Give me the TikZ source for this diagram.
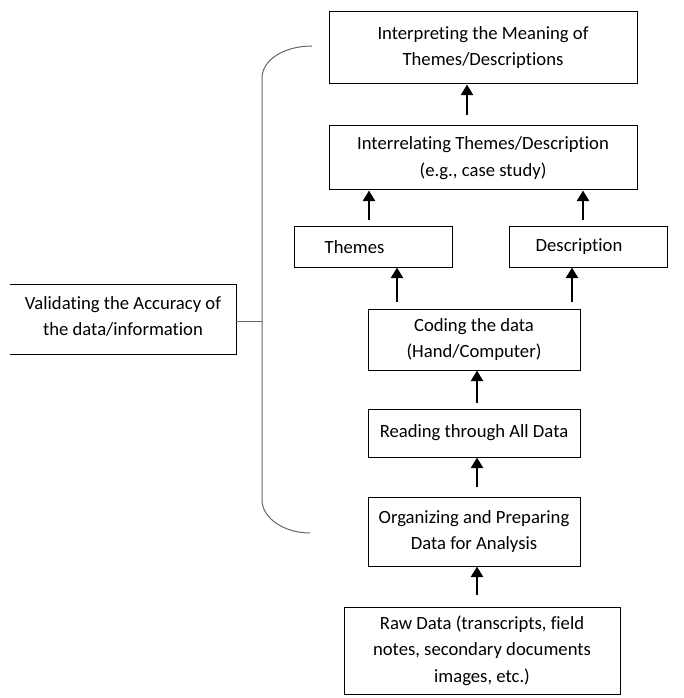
\documentclass[tikz,border=0pt]{standalone}
\usepackage{fontspec}
\setmainfont{Carlito}[Ligatures=NoCommon]
\usepackage{tikz}
\usetikzlibrary{arrows.meta}

\begin{document}
\begin{tikzpicture}[x=0.75pt, y=-0.75pt,
  box/.style={draw, line width=0.75pt, align=center, inner sep=0pt},
  lines/.style={font=\fontsize{14}{#1}\selectfont},
  arr/.style={line width=2.1pt, -{Triangle[width=9pt,length=8pt]}},
  brace/.style={draw=black!60, line width=0.75pt}]
\useasboundingbox (0,0) rectangle (683,698);
\node[box, lines=19.5pt, minimum width=231pt, minimum height=54pt] (interp) at (483,48) {Interpreting the Meaning of\\Themes/Descriptions};
\node[box, lines=20pt, minimum width=231pt, minimum height=48pt] (interrel) at (483,158) {Interrelating Themes/Description\\(e.g., case study)};
\node[box, lines=18pt, minimum width=118.5pt, minimum height=30pt, inner xsep=23pt, text width=72.5pt, align=left] (themes) at (373,247) {Themes};
\node[box, lines=18pt, minimum width=118.5pt, minimum height=30pt, inner xsep=20pt, text width=78.5pt, align=left] (descr) at (588,247) {Description};
\node[box, lines=19.5pt, minimum width=159pt, minimum height=45.75pt] (coding) at (474,339.5) {Coding the data\\(Hand/Computer)};
\node[box, lines=18pt, minimum width=159pt, minimum height=36pt] (reading) at (474,433) {Reading through All Data};
\node[box, lines=19pt, minimum width=159pt, minimum height=51.75pt] (organ) at (474,531.5) {Organizing and Preparing\\Data for Analysis};
\node[box, lines=20pt, minimum width=207pt, minimum height=65.25pt] (raw) at (482,650.5) {Raw Data (transcripts, field\\notes, secondary documents\\images, etc.)};
\node[lines=20pt, align=center, inner sep=0pt, minimum width=169.5pt, minimum height=51.75pt] (valid) at (123,316.5) {Validating the Accuracy of\\the data/information};
\draw[line width=0.75pt] ([yshift=-2.25pt]valid.north west) -- ([yshift=-2.25pt]valid.north east) -- ([yshift=-2.25pt]valid.south east) -- ([yshift=-2.25pt]valid.south west);
\coordinate (brace) at (262,321);
\draw[brace] (312,46) .. controls (284,46) and (262,60) .. (262,78) -- (262,500) .. controls (262,518) and (284,533) .. (310,533);
\draw[brace] (valid.east |- brace) -- (brace);
\draw[arr, shorten <=8pt] ([xshift=-12pt]interp.south |- interrel.north) -- ([xshift=-12pt]interp.south);
\draw[arr, shorten <=4.5pt] ([xshift=-3pt]themes.north) -- ([xshift=-3pt]themes.north |- interrel.south);
\draw[arr, shorten <=4.5pt] ([xshift=-3.75pt]descr.north) -- ([xshift=-3.75pt]descr.north |- interrel.south);
\draw[arr, shorten <=5pt] ([xshift=18pt]themes.south |- coding.north) -- ([xshift=18pt]themes.south);
\draw[arr, shorten <=5pt] ([xshift=-12pt]descr.south |- coding.north) -- ([xshift=-12pt]descr.south);
\draw[arr, shorten <=4.5pt] ([xshift=2.25pt]reading.north) -- ([xshift=2.25pt]coding.south);
\draw[arr, shorten <=7pt] ([xshift=2.25pt]organ.north) -- ([xshift=2.25pt]reading.south);
\draw[arr, shorten <=9pt] ([xshift=2.25pt]organ.south |- raw.north) -- ([xshift=2.25pt]organ.south);
\end{tikzpicture}
\end{document}
